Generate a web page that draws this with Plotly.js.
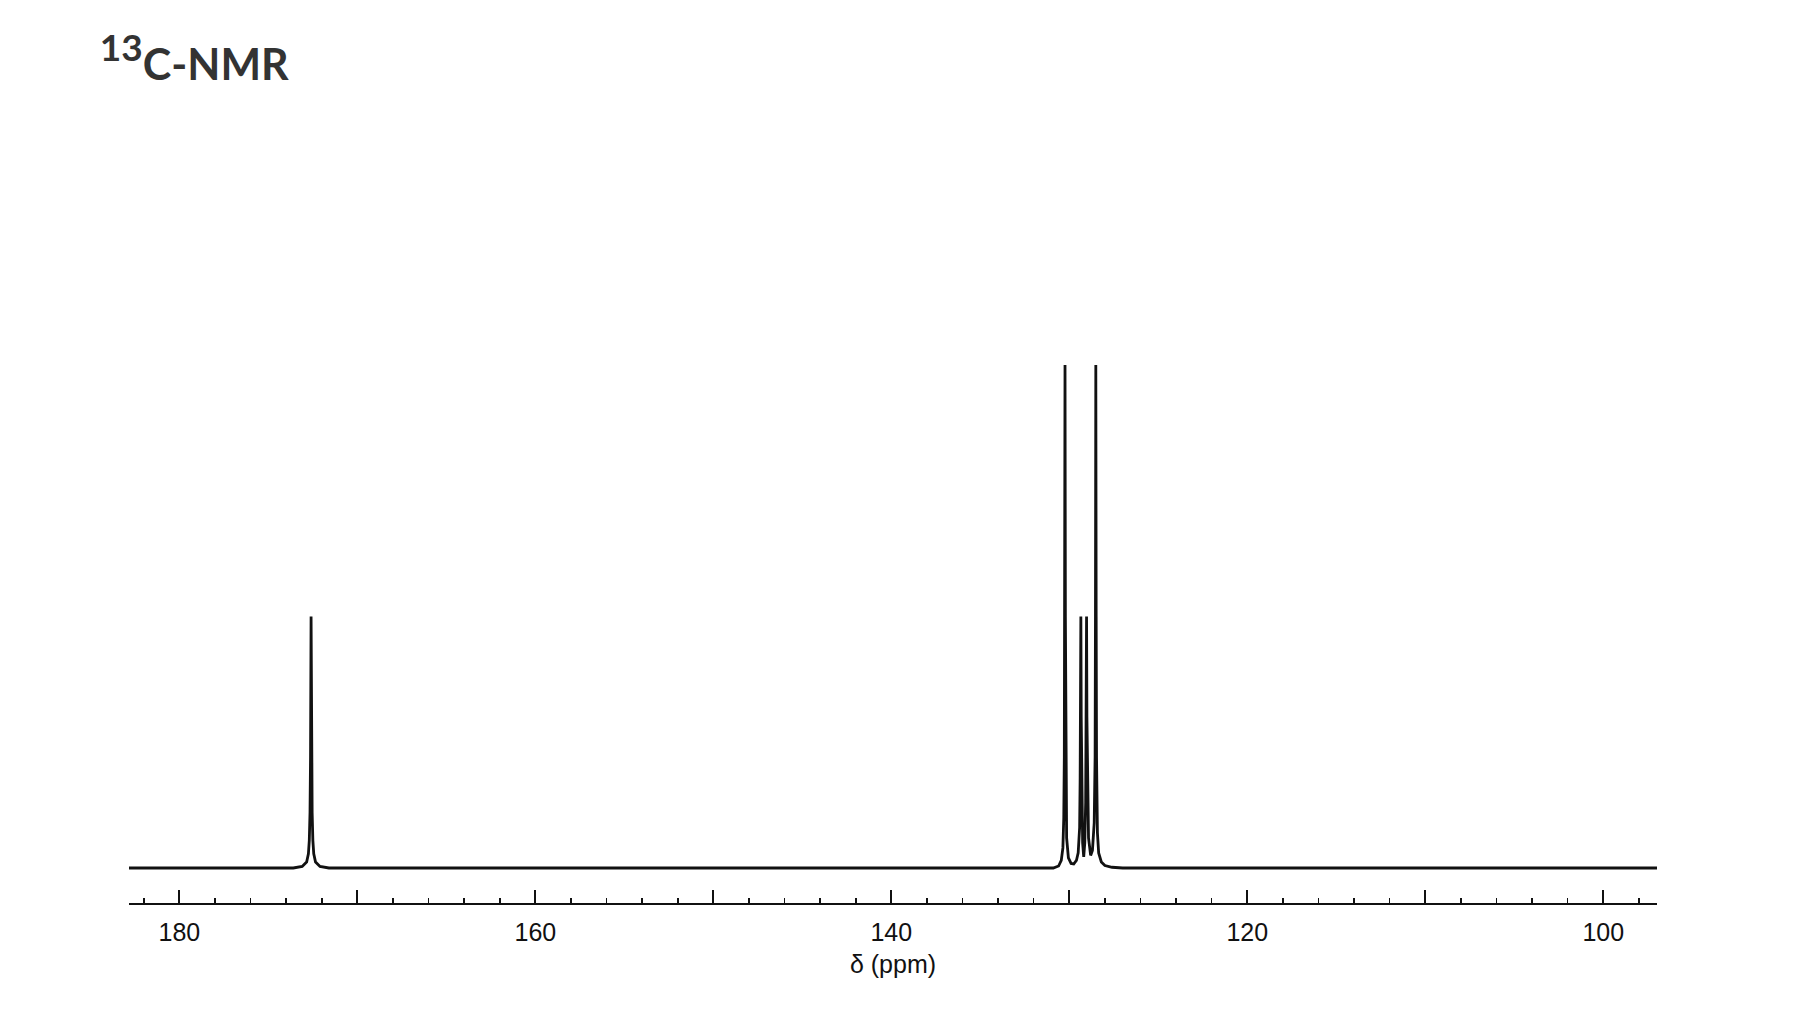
<!DOCTYPE html>
<html>
<head>
<meta charset="utf-8">
<script src="https://cdn.plot.ly/plotly-3.0.1.min.js"></script>
<style>
  html, body { margin: 0; padding: 0; background: #ffffff; }
  #chart { width: 1799px; height: 1020px; }
</style>
</head>
<body>
<div id="chart"></div>
<script>
// Spectrum trace: chemical shift (ppm) and relative intensity
const shiftPpm = [
  182.83,
  173.6, 173.1, 172.85, 172.75, 172.7, 172.66, 172.63, 172.6, 172.57, 172.54, 172.5, 172.45, 172.35, 172.1, 171.6,
  130.9, 130.6, 130.45, 130.36, 130.31, 130.28, 130.26, 130.24, 130.22, 130.2, 130.15, 130.05,
  129.9, 129.75, 129.6, 129.5, 129.42, 129.39, 129.37, 129.35, 129.33, 129.3, 129.25,
  129.19, 129.13, 129.08, 129.05, 129.03, 129.01, 128.98, 128.92,
  128.8, 128.7, 128.6, 128.55, 128.53, 128.51, 128.49, 128.47, 128.42, 128.35, 128.2, 128.0, 127.6, 127.0,
  96.98
];
const intensity = [
  0,
  0, 0.3, 1.2, 2.8, 5.5, 11, 22, 50, 22, 11, 5.5, 2.8, 1.2, 0.3, 0,
  0, 0.4, 1.5, 4, 10, 22, 50, 100, 50, 22, 6, 2,
  0.9, 0.8, 1.5, 3, 8, 18, 30, 50, 30, 13, 5,
  2.2, 5, 13, 30, 50, 30, 16, 6,
  2.5, 3.5, 9, 22, 50, 100, 50, 22, 7, 3, 1.2, 0.5, 0.15, 0,
  0
];
// Axis ticks
const labelledTicks = [180, 160, 140, 120, 100];
const labelledText = ['180', '160', '140', '120', '100'];
const unlabelledMajorTicks = [170, 150, 130, 110];

const spectrum = {
  x: shiftPpm,
  y: intensity,
  type: 'scatter',
  mode: 'lines',
  line: { color: '#111111', width: 2.8 },
  hoverinfo: 'x+y',
  showlegend: false
};

// carrier for the second (tick-only) x axis; draws nothing
const tickCarrier = {
  x: unlabelledMajorTicks,
  y: unlabelledMajorTicks.map(() => null),
  xaxis: 'x2',
  type: 'scatter',
  mode: 'lines',
  hoverinfo: 'skip',
  showlegend: false
};

const tickFont = { family: '"Liberation Sans", Arial, sans-serif', size: 25, color: '#111111' };

const layout = {
  width: 1799,
  height: 1020,
  paper_bgcolor: '#ffffff',
  plot_bgcolor: '#ffffff',
  margin: { l: 129, r: 142, t: 150, b: 117 },
  title: {
    text: '<sup><span style="font-size:37px">13</span></sup>C-NMR',
    font: { family: 'Lato, "Noto Sans", sans-serif', size: 43, color: '#333333', weight: 'bold' },
    x: 0.0555, xanchor: 'left', xref: 'container',
    y: 0.922, yanchor: 'bottom', yref: 'container'
  },
  xaxis: {
    range: [182.83, 96.98],
    showline: true,
    linecolor: '#111111',
    linewidth: 2,
    showgrid: false,
    zeroline: false,
    ticks: 'inside',
    ticklen: 13,
    tickwidth: 2,
    tickcolor: '#111111',
    tickmode: 'array',
    tickvals: labelledTicks,
    ticktext: labelledText,
    ticklabelstandoff: 6,
    tickfont: tickFont,
    minor: { dtick: 2, tick0: 0, ticks: 'inside', ticklen: 5, tickwidth: 1.6, tickcolor: '#111111', showgrid: false },
    title: {
      text: 'δ (ppm)',
      font: tickFont,
      standoff: 10
    },
    fixedrange: true
  },
  xaxis2: {
    matches: 'x',
    overlaying: 'x',
    anchor: 'y',
    side: 'bottom',
    range: [182.83, 96.98],
    showline: false,
    showgrid: false,
    zeroline: false,
    showticklabels: false,
    ticks: 'inside',
    ticklen: 13,
    tickwidth: 2,
    tickcolor: '#111111',
    tickmode: 'array',
    tickvals: unlabelledMajorTicks,
    fixedrange: true
  },
  yaxis: {
    range: [-6.958, 142.74],
    visible: false,
    showgrid: false,
    zeroline: false,
    fixedrange: true
  }
};

Plotly.newPlot('chart', [spectrum, tickCarrier], layout, { displayModeBar: false, staticPlot: true });
</script>
</body>
</html>
